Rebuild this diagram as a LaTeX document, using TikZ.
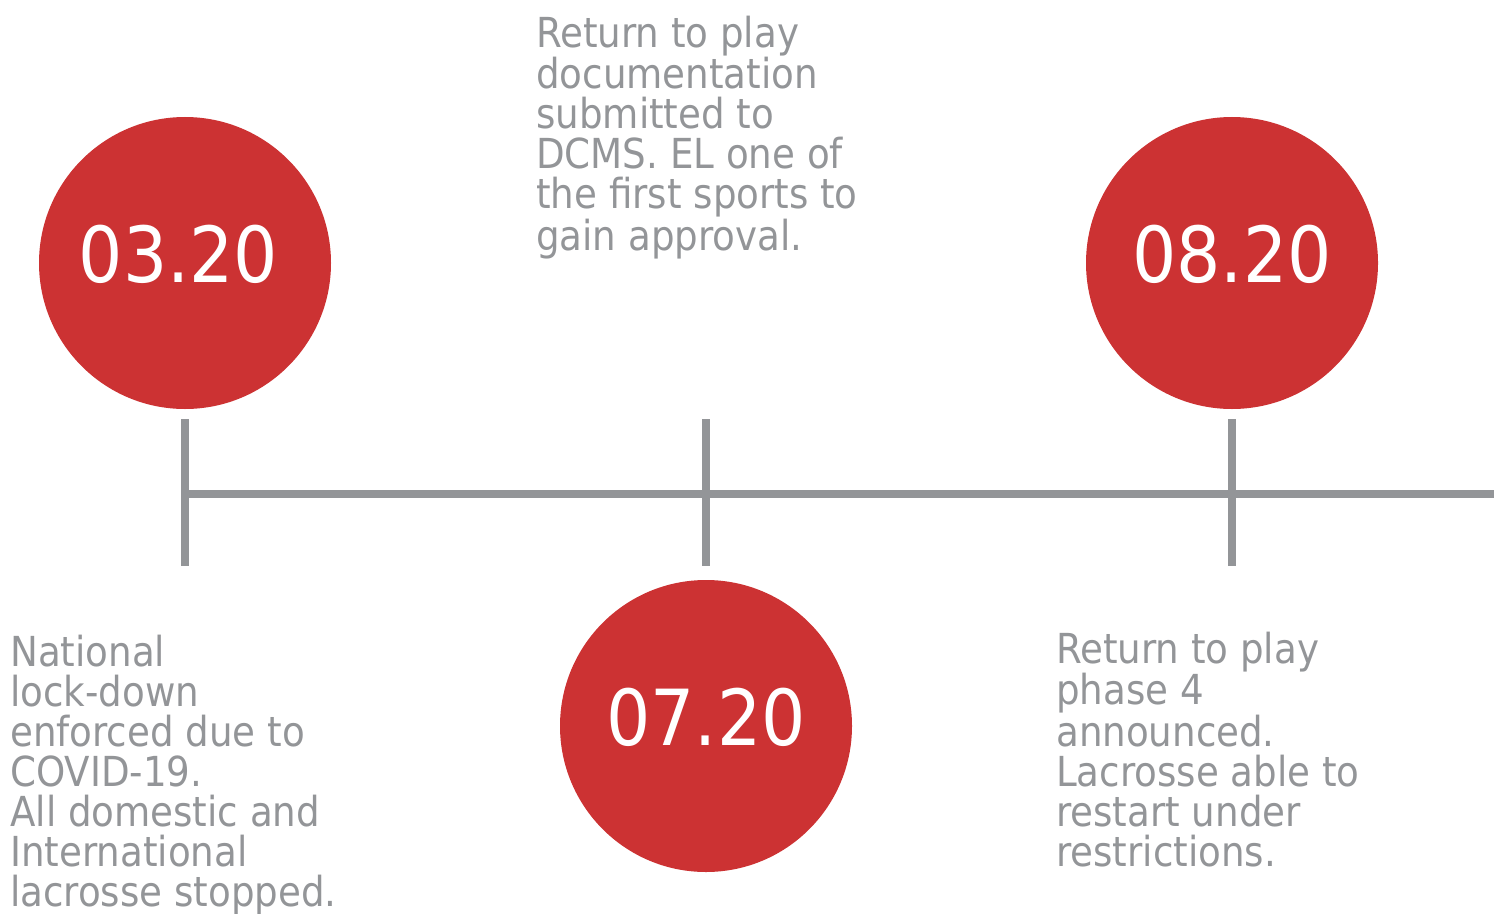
\documentclass[tikz,border=0pt]{standalone}
\usepackage{fontspec}
\setmainfont{DejaVu Sans Condensed}
\definecolor{tlred}{RGB}{204,50,51}
\definecolor{tlgray}{RGB}{147,149,152}
\begin{document}
\begin{tikzpicture}[x=0.75pt,y=-0.75pt,
  datecirc/.style={circle,fill=tlred,minimum size=219pt,inner sep=0pt},
  datetext/.style={inner sep=0pt,text=white,text depth=13.5pt,
    font=\fontsize{58}{58}\selectfont},
  note/.style={anchor=base west,align=left,inner sep=0pt,text=tlgray,
    font=\fontsize{31}{30}\selectfont},
  tlline/.style={draw=tlgray,line width=6pt}]
\useasboundingbox (0,0) rectangle (1494,913);
% timeline points
\coordinate (p1) at (185,494);
\coordinate (p2) at (706,494);
\coordinate (p3) at (1232,494);
\coordinate (pend) at (1494,494);
\coordinate (t1a) at (185,419); \coordinate (t1b) at (185,566);
\coordinate (t2a) at (706,419); \coordinate (t2b) at (706,566);
\coordinate (t3a) at (1232,419); \coordinate (t3b) at (1232,566);
\draw[tlline] (p1) -- (pend);
\draw[tlline] (t1a) -- (t1b);
\draw[tlline] (t2a) -- (t2b);
\draw[tlline] (t3a) -- (t3b);
% circles
\node[datecirc] (c1) at (185,263) {};
\node[datecirc] (c2) at (706,726) {};
\node[datecirc] (c3) at (1232,263) {};
\node[datetext,xshift=-5pt] (d1) at (c1) {03.20};
\node[datetext] (d2) at (c2) {07.20};
\node[datetext] (d3) at (c3) {08.20};
% notes (anchored at the baseline of the last line)
\node[note] (n1) at (10,906) {National\\lock-down\\enforced due to\\COVID-19.\\All domestic and\\International\\lacrosse stopped.};
\node[note] (n2) at (536,250) {Return to play\\documentation\\submitted to\\DCMS. EL one of\\the first sports to\\gain approval.};
\node[note] (n3) at (1056,866) {Return to play\\phase 4\\announced.\\Lacrosse able to\\restart under\\restrictions.};
\end{tikzpicture}
\end{document}
